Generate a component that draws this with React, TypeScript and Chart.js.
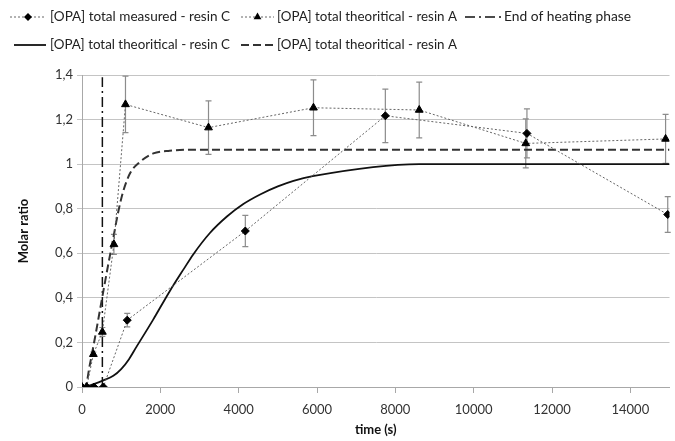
import React, { useEffect, useRef } from "react";
import { Chart, registerables } from "chart.js";

Chart.register(...registerables);

const FONT = "Lato, 'Open Sans', sans-serif";

// ---- data ----
const xTickValues = [0, 2000, 4000, 6000, 8000, 10000, 12000, 14000];
const yTickValues = [0, 0.2, 0.4, 0.6, 0.8, 1, 1.2, 1.4];

const measCTime = [0, 120, 305, 545, 1155, 4170, 7745, 11360, 14955];
const measCValue = [0, 0, 0, 0, 0.3, 0.7, 1.217, 1.138, 0.774];
const measCError = [0, 0, 0, 0, 0.03, 0.07, 0.12, 0.11, 0.08];

const measATime = [0, 120, 290, 520, 815, 1110, 3230, 5910, 8610, 11330, 14900];
const measAValue = [0, 0, 0.147, 0.247, 0.64, 1.268, 1.164, 1.253, 1.243, 1.093, 1.113];
const measAError = [0, 0, 0.01, 0.02, 0.045, 0.127, 0.12, 0.125, 0.125, 0.11, 0.11];

const theoCTime = [0, 150, 545, 800, 1000, 1200, 1390, 1810, 2240, 2600, 2840, 3260, 3700, 4110, 4560, 5000, 5400, 5890, 8610, 11330, 15000];
const theoCValue = [0, 0.005, 0.03, 0.05, 0.08, 0.125, 0.18, 0.3, 0.43, 0.53, 0.595, 0.69, 0.765, 0.82, 0.865, 0.9, 0.925, 0.946, 1.0, 1.0, 1.0];

const theoATime = [0, 80, 200, 330, 545, 670, 800, 930, 1055, 1230, 1480, 1820, 2240, 3000, 15000];
const theoAValue = [0, 0, 0.1, 0.22, 0.43, 0.55, 0.67, 0.79, 0.88, 0.96, 1.01, 1.048, 1.06, 1.065, 1.065];

const heatTime = [520, 520];
const heatValue = [0, 1.39];

const labels = [
  "[OPA] total measured - resin C",
  "[OPA] total theoritical - resin A",
  "[OPA] total theoritical - resin C",
  "[OPA] total theoritical - resin A",
  "End of heating phase",
];

const xTitle = "time (s)";
const yTitle = "Molar ratio";

const zip = (xs: number[], ys: number[]) => xs.map((x, i) => ({ x, y: ys[i] }));

// legend placement (layout only)
const legendItems = [
  { ds: 0, x: 10, y: 17, w: 36, tx: 50, tw: 180 },
  { ds: 1, x: 241, y: 17, w: 33, tx: 277, tw: 180 },
  { ds: 4, x: 465, y: 17, w: 36, tx: 504, tw: 127 },
  { ds: 2, x: 14, y: 45, w: 32, tx: 50, tw: 180 },
  { ds: 3, x: 241, y: 45, w: 34, tx: 277, tw: 180 },
];

function drawMarker(ctx: CanvasRenderingContext2D, style: string, r: number, x: number, y: number) {
  ctx.save();
  ctx.fillStyle = "#000";
  ctx.beginPath();
  if (style === "rectRot") {
    ctx.moveTo(x, y - r);
    ctx.lineTo(x + r, y);
    ctx.lineTo(x, y + r);
    ctx.lineTo(x - r, y);
  } else {
    const h = r * 1.5;
    const s = (r * Math.sqrt(3)) / 2;
    ctx.moveTo(x, y - r);
    ctx.lineTo(x + s, y - r + h);
    ctx.lineTo(x - s, y - r + h);
  }
  ctx.closePath();
  ctx.fill();
  ctx.restore();
}

const errorBarPlugin = {
  id: "errorBars",
  beforeDatasetsDraw(chart: any) {
    const { ctx, scales } = chart;
    const x = scales.x,
      y = scales.y;
    chart.data.datasets.forEach((ds: any) => {
      const errs = ds.errors;
      if (!errs) return;
      ctx.save();
      ctx.strokeStyle = "#8c8c8c";
      ctx.lineWidth = 1.2;
      ds.data.forEach((p: any, j: number) => {
        const e = errs[j];
        if (!e) return;
        const px = x.getPixelForValue(p.x);
        const y1 = y.getPixelForValue(p.y + e);
        const y2 = y.getPixelForValue(p.y - e);
        ctx.beginPath();
        ctx.moveTo(px, y1);
        ctx.lineTo(px, y2);
        ctx.moveTo(px - 3, y1);
        ctx.lineTo(px + 3, y1);
        ctx.moveTo(px - 3, y2);
        ctx.lineTo(px + 3, y2);
        ctx.stroke();
      });
      ctx.restore();
    });
  },
};

const legendPlugin = {
  id: "customLegend",
  afterDraw(chart: any) {
    const { ctx } = chart;
    ctx.save();
    legendItems.forEach((it) => {
      const ds = chart.data.datasets[it.ds];
      ctx.save();
      ctx.strokeStyle = ds.borderColor;
      ctx.lineWidth = ds.borderWidth;
      ctx.setLineDash(ds.borderDash || []);
      ctx.beginPath();
      ctx.moveTo(it.x, it.y);
      ctx.lineTo(it.x + it.w, it.y);
      ctx.stroke();
      ctx.restore();
      if (ds.pointRadius > 0) {
        drawMarker(ctx, ds.pointStyle, ds.pointRadius, it.x + it.w / 2, it.y);
      }
      ctx.save();
      ctx.fillStyle = "#222";
      ctx.font = `13px ${FONT}`;
      ctx.textBaseline = "middle";
      ctx.textAlign = "left";
      const mw = ctx.measureText(ds.label).width || 1;
      ctx.translate(it.tx, it.y);
      ctx.scale(it.tw / mw, 1);
      ctx.fillText(ds.label, 0, 0);
      ctx.restore();
    });
    ctx.restore();
  },
};

export default function App() {
  const ref = useRef<HTMLCanvasElement | null>(null);

  useEffect(() => {
    if (!ref.current) return;
    const chart = new Chart(ref.current, {
      type: "line",
      data: {
        datasets: [
          {
            label: labels[0],
            data: zip(measCTime, measCValue),
            errors: measCError,
            borderColor: "#666",
            borderWidth: 1,
            borderDash: [2, 2],
            pointStyle: "rectRot",
            pointRadius: 4,
            pointBackgroundColor: "#000",
            pointBorderColor: "#000",
            tension: 0,
            order: 2,
          } as any,
          {
            label: labels[1],
            data: zip(measATime, measAValue),
            errors: measAError,
            borderColor: "#666",
            borderWidth: 1,
            borderDash: [2, 2],
            pointStyle: "triangle",
            pointRadius: 4.5,
            pointBackgroundColor: "#000",
            pointBorderColor: "#000",
            tension: 0,
            order: 1,
          } as any,
          {
            label: labels[2],
            data: zip(theoCTime, theoCValue),
            borderColor: "#111",
            borderWidth: 1.8,
            pointRadius: 0,
            cubicInterpolationMode: "monotone",
            order: 3,
          },
          {
            label: labels[3],
            data: zip(theoATime, theoAValue),
            borderColor: "#333",
            borderWidth: 2,
            borderDash: [8, 4],
            pointRadius: 0,
            cubicInterpolationMode: "monotone",
            order: 4,
          },
          {
            label: labels[4],
            data: zip(heatTime, heatValue),
            borderColor: "#111",
            borderWidth: 1.5,
            borderDash: [10, 4, 2, 4],
            pointRadius: 0,
            order: 5,
          },
        ],
      },
      options: {
        responsive: false,
        animation: false,
        devicePixelRatio: 1,
        layout: { padding: { top: 75, right: 5, left: 0, bottom: 0 } },
        plugins: { legend: { display: false }, tooltip: { enabled: false } },
        elements: { line: { fill: false } },
        scales: {
          x: {
            type: "linear",
            min: 0,
            max: 15000,
            afterBuildTicks: (s: any) => {
              s.ticks = xTickValues.map((v) => ({ value: v }));
            },
            afterFit: (s: any) => {
              s.height = 54;
            },
            ticks: {
              maxRotation: 0,
              autoSkip: false,
              padding: 9,
              color: "#333",
              font: { family: FONT, size: 13 },
              callback: (v: any) => String(v),
            },
            grid: { drawOnChartArea: false, drawTicks: true, tickLength: 6, color: "#a8a8a8" },
            border: { color: "#a8a8a8" },
            title: {
              display: true,
              text: xTitle,
              color: "#111",
              font: { family: FONT, size: 13, weight: "bold" },
              padding: { top: 0, bottom: 3 },
            },
          },
          y: {
            min: 0,
            max: 1.4,
            afterBuildTicks: (s: any) => {
              s.ticks = yTickValues.map((v) => ({ value: v }));
            },
            afterFit: (s: any) => {
              s.width = 82;
            },
            ticks: {
              padding: 4,
              color: "#333",
              font: { family: FONT, size: 13 },
              callback: (v: any) => String(Math.round(Number(v) * 10) / 10).replace(".", ","),
            },
            grid: { color: "#c4c4c4", tickLength: 5, lineWidth: 1 },
            border: { color: "#a8a8a8" },
            title: {
              display: true,
              text: yTitle,
              color: "#111",
              font: { family: FONT, size: 13, weight: "bold" },
              padding: { top: 16, bottom: 0 },
            },
          },
        },
      },
      plugins: [errorBarPlugin, legendPlugin],
    } as any);
    return () => chart.destroy();
  }, []);

  return (
    <div style={{ position: "fixed", left: 0, top: 0, width: 675, height: 441, background: "#fff" }}>
      <canvas ref={ref} width={675} height={441} style={{ display: "block" }} />
    </div>
  );
}
